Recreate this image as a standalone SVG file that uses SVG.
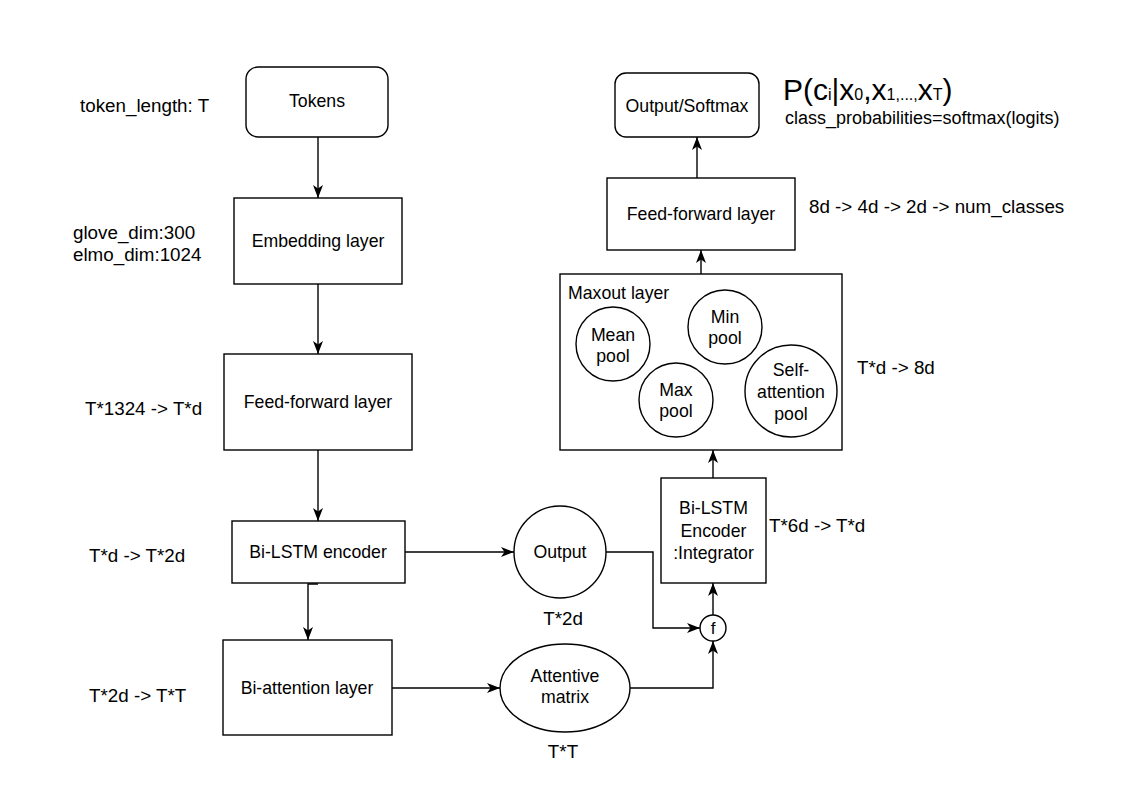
<svg xmlns="http://www.w3.org/2000/svg" width="1134" height="790" viewBox="0 0 1134 790">
<style>
.box{fill:#fff;stroke:#000;stroke-width:1.4}
.t{font-family:"Liberation Sans",Arial,sans-serif;font-size:17.7px;fill:#000;text-anchor:middle}
.l{font-family:"Liberation Sans",Arial,sans-serif;font-size:18.8px;fill:#000}
.c{fill:none;stroke:#000;stroke-width:1.4}
.sub{font-size:16px}
</style>
<defs>
<marker id="arr" viewBox="0 0 13 11" refX="13" refY="5.5" markerWidth="13" markerHeight="11" markerUnits="userSpaceOnUse" orient="auto">
<path d="M0,0.5 L13,5.5 L0,10.5 L3.5,5.5 Z" fill="#000"/>
</marker>
</defs>
<rect width="1134" height="790" fill="#fff"/>

<g id="connectors">
<path class="c" d="M318,137 V198" marker-end="url(#arr)"/>
<path class="c" d="M318,284 V354" marker-end="url(#arr)"/>
<path class="c" d="M318,450 V521" marker-end="url(#arr)"/>
<path class="c" d="M318,584 H308 V640" marker-end="url(#arr)"/>
<path class="c" d="M405,552 H514" marker-end="url(#arr)"/>
<path class="c" d="M392,688 H500" marker-end="url(#arr)"/>
<path class="c" d="M606,552 H653 V628 H700" marker-end="url(#arr)"/>
<path class="c" d="M630,688 H713 V641" marker-end="url(#arr)"/>
<path class="c" d="M713,615 V583" marker-end="url(#arr)"/>
<path class="c" d="M713,478 V450" marker-end="url(#arr)"/>
<path class="c" d="M701,274 V250" marker-end="url(#arr)"/>
<path class="c" d="M697,178 V137" marker-end="url(#arr)"/>
</g>

<g id="tokens">
<rect class="box" x="246" y="67" width="142" height="70" rx="12"/>
<text class="t" x="317" y="107">Tokens</text>
</g>
<g id="embedding">
<rect class="box" x="234" y="198" width="168" height="86"/>
<text class="t" x="318" y="247">Embedding layer</text>
</g>
<g id="ff1">
<rect class="box" x="224" y="354" width="188" height="96"/>
<text class="t" x="318" y="408">Feed-forward layer</text>
</g>
<g id="bilstm">
<rect class="box" x="232" y="521" width="173" height="62"/>
<text class="t" x="318" y="558">Bi-LSTM encoder</text>
</g>
<g id="biattention">
<rect class="box" x="223" y="640" width="169" height="95"/>
<text class="t" x="307" y="694">Bi-attention layer</text>
</g>
<g id="output">
<circle class="box" cx="560" cy="552" r="46"/>
<text class="t" x="560" y="558">Output</text>
</g>
<g id="attentive">
<ellipse class="box" cx="565" cy="688" rx="65" ry="44"/>
<text class="t" x="565" y="682">Attentive</text>
<text class="t" x="565" y="703">matrix</text>
</g>
<g id="f">
<circle class="box" cx="713" cy="628" r="13"/>
<text class="t" x="713" y="634" style="font-size:17px">f</text>
</g>
<g id="integrator">
<rect class="box" x="661" y="478" width="105" height="105"/>
<text class="t" x="713.5" y="514">Bi-LSTM</text>
<text class="t" x="713.5" y="537">Encoder</text>
<text class="t" x="713.5" y="559">:Integrator</text>
</g>
<g id="maxout">
<rect class="box" x="560" y="274" width="282" height="176"/>
<text class="l" x="568" y="299" style="font-size:17.7px">Maxout layer</text>
</g>
<g id="meanpool">
<circle class="box" cx="613" cy="344" r="37"/>
<text class="t" x="613" y="341">Mean</text>
<text class="t" x="613" y="362">pool</text>
</g>
<g id="minpool">
<circle class="box" cx="725" cy="327" r="37"/>
<text class="t" x="725" y="323">Min</text>
<text class="t" x="725" y="344">pool</text>
</g>
<g id="maxpool">
<circle class="box" cx="676" cy="400" r="37"/>
<text class="t" x="676" y="396">Max</text>
<text class="t" x="676" y="417">pool</text>
</g>
<g id="selfattpool">
<circle class="box" cx="791" cy="391" r="46"/>
<text class="t" x="791" y="376">Self-</text>
<text class="t" x="791" y="398">attention</text>
<text class="t" x="791" y="420">pool</text>
</g>
<g id="ff2">
<rect class="box" x="607" y="178" width="188" height="72"/>
<text class="t" x="701" y="220">Feed-forward layer</text>
</g>
<g id="softmax">
<rect class="box" x="615" y="73" width="144" height="64" rx="11"/>
<text class="t" x="687" y="112">Output/Softmax</text>
</g>

<g id="labels">
<text class="l" x="80" y="112">token_length: T</text>
<text class="l" x="73" y="239">glove_dim:300</text>
<text class="l" x="73" y="261">elmo_dim:1024</text>
<text class="l" x="85" y="415">T*1324 -&gt; T*d</text>
<text class="l" x="89" y="562">T*d -&gt; T*2d</text>
<text class="l" x="89" y="702">T*2d -&gt; T*T</text>
<text class="l" x="563" y="625" text-anchor="middle">T*2d</text>
<text class="l" x="563" y="758" text-anchor="middle">T*T</text>
<text class="l" x="769" y="532">T*6d -&gt; T*d</text>
<text class="l" x="857" y="374">T*d -&gt; 8d</text>
<text class="l" x="809" y="213">8d -&gt; 4d -&gt; 2d -&gt; num_classes</text>
<text class="l" x="783" y="100" style="font-size:30px">P(c<tspan class="sub">i</tspan>|x<tspan class="sub">0</tspan>,x<tspan class="sub">1,...,</tspan>x<tspan class="sub">T</tspan>)</text>
<text class="l" x="785" y="124" style="font-size:18px">class_probabilities=softmax(logits)</text>
</g>
</svg>
